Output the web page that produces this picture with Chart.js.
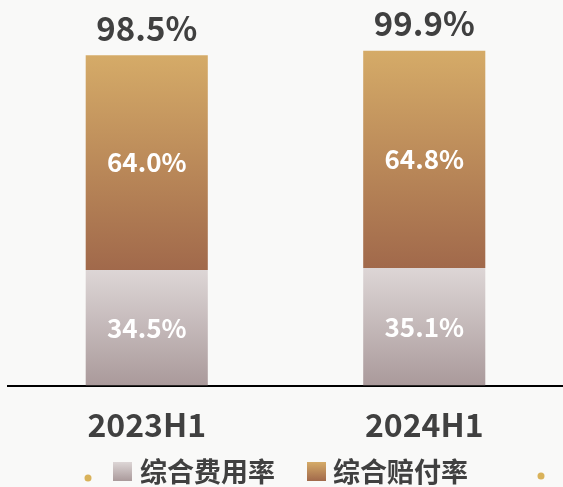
<!DOCTYPE html>
<html>
<head>
<meta charset="utf-8">
<script src="https://cdn.jsdelivr.net/npm/chart.js@4.4.1/dist/chart.umd.min.js"></script>
<style>
  html, body { margin: 0; padding: 0; background: #f9f9f8; }
  #wrap { width: 563px; height: 487px; position: relative; }
  #legend { position: absolute; left: 0; top: 454px; width: 563px; height: 34px;
    font: bold 27px 'Noto Sans CJK SC', sans-serif; color: #404040; }
  #legend .item { position: absolute; top: 0; line-height: 34px; white-space: nowrap; }
  #legend .box { position: absolute; width: 19px; height: 19px; top: 8px; }
</style>
</head>
<body>
<div id="wrap"><canvas id="c"></canvas><div id="legend"></div></div>
<script>
const categories = ["2023H1", "2024H1"];
const seriesNames = ["综合费用率", "综合赔付率"];
const expenseRatio = [34.5, 35.1];
const lossRatio = [64.0, 64.8];
const combinedRatio = [98.5, 99.9];

const FONT = "'Noto Sans CJK SC', 'Open Sans', sans-serif";
const gradColors = [
  ["#ddd6d6", "#aa9a9b"],  // expense: light top, darker bottom
  ["#d5ab68", "#a1694b"]   // loss: gold top, brown bottom
];

// gradient spanning a single segment, built from the y scale
function segGradient(ctx) {
  const chart = ctx.chart;
  const y = chart.scales.y;
  if (!y || !chart.chartArea) return gradColors[ctx.datasetIndex][0];
  const i = ctx.dataIndex;
  let lo = 0, hi = expenseRatio[i];
  if (ctx.datasetIndex === 1) { lo = expenseRatio[i]; hi = lo + lossRatio[i]; }
  const g = chart.ctx.createLinearGradient(0, y.getPixelForValue(hi), 0, y.getPixelForValue(lo));
  g.addColorStop(0, gradColors[ctx.datasetIndex][0]);
  g.addColorStop(1, gradColors[ctx.datasetIndex][1]);
  return g;
}

const labelPlugin = {
  id: "labels",
  afterDatasetsDraw(chart) {
    const c = chart.ctx;
    c.save();
    c.textAlign = "center";
    c.textBaseline = "middle";
    chart.data.datasets.forEach((ds, di) => {
      chart.getDatasetMeta(di).data.forEach((bar, i) => {
        c.fillStyle = "#ffffff";
        c.font = "bold 26px " + FONT;
        c.fillText(ds.data[i].toFixed(1) + "%", bar.x, (bar.y + bar.base) / 2);
      });
    });
    const top = chart.getDatasetMeta(1).data;
    c.fillStyle = "#404040";
    c.font = "bold 33px " + FONT;
    top.forEach((bar, i) => {
      c.fillText(combinedRatio[i].toFixed(1) + "%", bar.x, bar.y - 27);
    });
    // small decorative dots near legend
    c.fillStyle = "#d9b25a";
    [[88, 478], [541, 476]].forEach(p => {
      c.beginPath(); c.arc(p[0], p[1], 3.5, 0, Math.PI * 2); c.fill();
    });
    c.restore();
  }
};

// html legend
const legendX = [[113, 140], [307, 333]];
const legendEl = document.getElementById("legend");
seriesNames.forEach((name, i) => {
  const box = document.createElement("div");
  box.className = "box";
  box.style.left = legendX[i][0] + "px";
  box.style.background = `linear-gradient(${gradColors[i][0]}, ${gradColors[i][1]})`;
  const t = document.createElement("div");
  t.className = "item";
  t.style.left = legendX[i][1] + "px";
  t.textContent = name;
  legendEl.appendChild(box);
  legendEl.appendChild(t);
});

new Chart(document.getElementById("c"), {
  type: "bar",
  data: {
    labels: categories,
    datasets: [
      { label: seriesNames[0], data: expenseRatio, backgroundColor: segGradient },
      { label: seriesNames[1], data: lossRatio, backgroundColor: segGradient }
    ]
  },
  options: {
    responsive: true,
    maintainAspectRatio: false,
    animation: false,
    layout: { padding: { left: 8, right: 0, top: 0, bottom: 31 } },
    datasets: { bar: { categoryPercentage: 1, barPercentage: 0.44 } },
    scales: {
      x: {
        stacked: true,
        grid: { display: false },
        border: { display: true, color: "#000000", width: 2 },
        ticks: { color: "#404040", font: { family: FONT, size: 32, weight: "bold" }, padding: 12 }
      },
      y: { stacked: true, display: false, min: 0, max: 115 }
    },
    plugins: {
      tooltip: { enabled: false },
      legend: { display: false }
    }
  },
  plugins: [labelPlugin]
});
</script>
</body>
</html>
